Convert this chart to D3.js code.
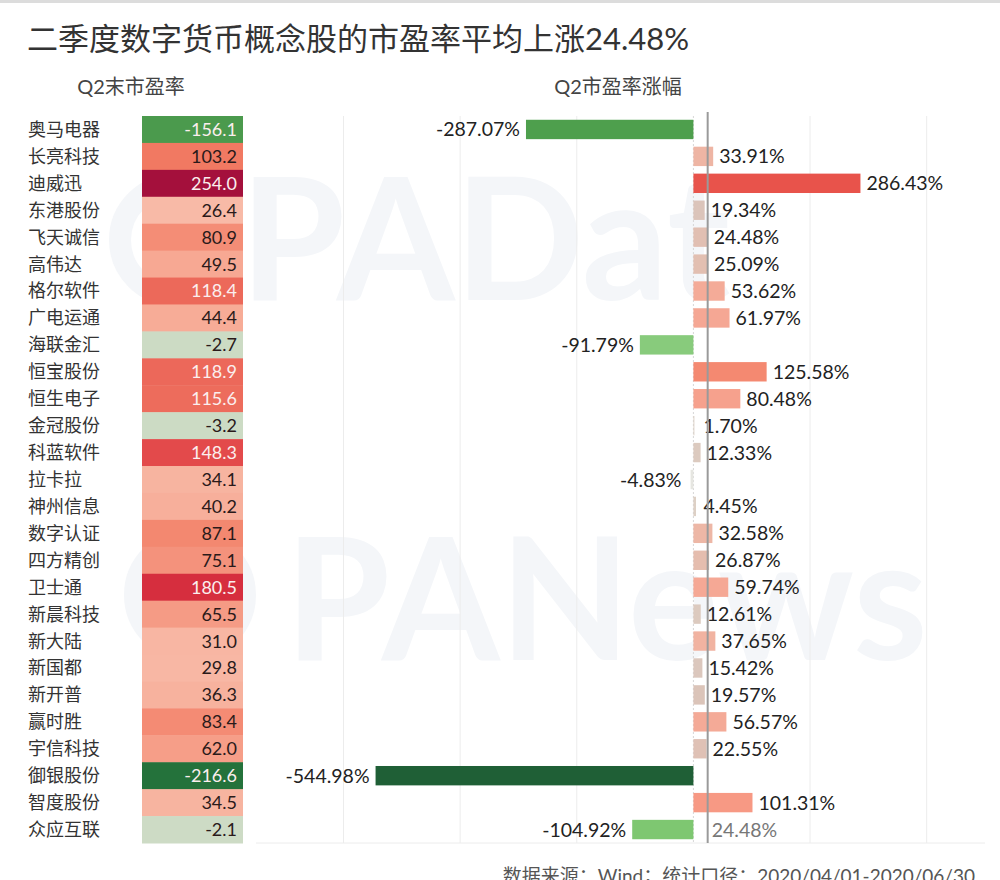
<!DOCTYPE html>
<html lang="zh">
<head>
  <meta charset="utf-8" />
  <title>二季度数字货币概念股的市盈率</title>
  <script src="https://d3js.org/d3.v7.min.js"></script>
  <style>
    body { margin: 0; background: #fff; }
    text { font-family: Lato, "Noto Sans CJK SC", sans-serif; }
  </style>
</head>
<body>
<script>
  // stock names, Q2 end PE, Q2 PE change (%)
  var names = ["奥马电器","长亮科技","迪威迅","东港股份","飞天诚信","高伟达","格尔软件","广电运通","海联金汇",
               "恒宝股份","恒生电子","金冠股份","科蓝软件","拉卡拉","神州信息","数字认证","四方精创","卫士通",
               "新晨科技","新大陆","新国都","新开普","赢时胜","宇信科技","御银股份","智度股份","众应互联"];
  var pe = [-156.1, 103.2, 254.0, 26.4, 80.9, 49.5, 118.4, 44.4, -2.7,
            118.9, 115.6, -3.2, 148.3, 34.1, 40.2, 87.1, 75.1, 180.5,
            65.5, 31.0, 29.8, 36.3, 83.4, 62.0, -216.6, 34.5, -2.1];
  var change = [-287.07, 33.91, 286.43, 19.34, 24.48, 25.09, 53.62, 61.97, -91.79,
                125.58, 80.48, 1.70, 12.33, -4.83, 4.45, 32.58, 26.87, 59.74,
                12.61, 37.65, 15.42, 19.57, 56.57, 22.55, -544.98, 101.31, -104.92];
  var average = 24.48;
  var gridTicks = [-600, -400, -200, 200, 400];

  var w = 1000, h = 880;

  var svg = d3.select("body").append("svg")
      .attr("width", w)
      .attr("height", h);

  svg.append("rect").attr("width", w).attr("height", 3).attr("fill", "#dcdcdc");

  // faint watermark (drawn as shapes so it stays behind everything)
  var wmc = "#f4f6f9";
  var wm = svg.append("g").attr("fill", "none").attr("stroke", wmc).attr("stroke-width", 22);
  wm.append("circle").attr("cx", 175).attr("cy", 240).attr("r", 55);
  wm.append("circle").attr("cx", 190).attr("cy", 595).attr("r", 55);
  svg.append("text").attr("x", 240).attr("y", 300).attr("font-size", 170)
    .attr("font-weight", "bold").attr("fill", wmc).text("PADat");
  svg.append("text").attr("x", 285).attr("y", 660).attr("font-size", 170)
    .attr("font-weight", "bold").attr("fill", wmc).text("PANews");

  // title
  svg.append("text")
    .attr("x", 27).attr("y", 50)
    .attr("font-size", 31)
    .attr("fill", "#333")
    .text("二季度数字货币概念股的市盈率平均上涨24.48%");

  svg.append("text").attr("x", 131).attr("y", 94).attr("text-anchor", "middle")
    .attr("font-size", 20).attr("fill", "#444").text("Q2末市盈率");
  svg.append("text").attr("x", 618).attr("y", 94).attr("text-anchor", "middle")
    .attr("font-size", 20).attr("fill", "#444").text("Q2市盈率涨幅");

  var y = d3.scaleBand().domain(names).range([116, 843]);

  var x = d3.scaleLinear().domain([-750, 500]).range([256, 985]);

  var peColor = d3.scaleLinear()
      .domain([-220, -150, -2, 25, 60, 100, 150, 185, 255])
      .range(["#22703a","#4f9e4f","#cddbc5","#f8bba8","#f6a08a","#f27c64","#e2484a","#d42a3c","#a3103c"])
      .clamp(true);

  var barColor = d3.scaleLinear()
      .domain([-545, -287, -100, -5, 0, 20, 35, 60, 100, 130, 290])
      .range(["#1f5f36","#4e9f4d","#7fc872","#e6e7e2","#ddd3c9","#dbc4b9","#f0b4a2","#f5a895","#f79a85","#f4866d","#e8524a"])
      .clamp(true);

  // grid lines
  svg.selectAll("line.grid")
    .data(gridTicks)
    .enter()
    .append("line")
    .attr("class", "grid")
    .attr("x1", function(d) { return x(d); })
    .attr("x2", function(d) { return x(d); })
    .attr("y1", 116).attr("y2", 843)
    .attr("stroke", "#ececec");

  svg.append("line")
    .attr("x1", x(-750)).attr("x2", x(500))
    .attr("y1", 843).attr("y2", 843)
    .attr("stroke", "#ececec");

  svg.append("line")
    .attr("x1", x(0)).attr("x2", x(0))
    .attr("y1", 116).attr("y2", 843)
    .attr("stroke", "#d6d6d6")
    .attr("stroke-dasharray", "2,2");

  // left table
  var rows = names.map(function(n, i) { return { name: n, pe: pe[i], chg: change[i] }; });

  svg.selectAll("text.name")
    .data(rows)
    .enter()
    .append("text")
    .attr("class", "name")
    .attr("x", 28)
    .attr("y", function(d) { return y(d.name) + y.bandwidth() / 2; })
    .attr("dy", "0.36em")
    .attr("font-size", 18)
    .attr("fill", "#333")
    .text(function(d) { return d.name; });

  svg.selectAll("rect.cell")
    .data(rows)
    .enter()
    .append("rect")
    .attr("class", "cell")
    .attr("x", 142)
    .attr("y", function(d) { return y(d.name); })
    .attr("width", 101)
    .attr("height", y.bandwidth() + 0.5)
    .attr("fill", function(d) { return peColor(d.pe); });

  svg.selectAll("text.pe")
    .data(rows)
    .enter()
    .append("text")
    .attr("class", "pe")
    .attr("x", 237)
    .attr("y", function(d) { return y(d.name) + y.bandwidth() / 2; })
    .attr("dy", "0.36em")
    .attr("text-anchor", "end")
    .attr("font-size", 18)
    .attr("fill", function(d) { return (d.pe < -100 || d.pe > 110) ? "#fbeeee" : "#2a1a1a"; })
    .text(function(d) { return d.pe.toFixed(1); });

  // bars
  var barH = y.bandwidth() * 0.72;

  svg.selectAll("rect.bar")
    .data(rows)
    .enter()
    .append("rect")
    .attr("class", "bar")
    .attr("x", function(d) { return x(Math.min(0, d.chg)); })
    .attr("y", function(d) { return y(d.name) + (y.bandwidth() - barH) / 2; })
    .attr("width", function(d) { return Math.abs(x(d.chg) - x(0)); })
    .attr("height", barH)
    .attr("fill", function(d) { return barColor(d.chg); });

  svg.selectAll("text.chg")
    .data(rows)
    .enter()
    .append("text")
    .attr("class", "chg")
    .attr("x", function(d) { return d.chg < 0 ? Math.min(x(d.chg), x(0) - 6) - 6 : Math.max(x(d.chg), x(0) + 4) + 6; })
    .attr("y", function(d) { return y(d.name) + y.bandwidth() / 2; })
    .attr("dy", "0.36em")
    .attr("text-anchor", function(d) { return d.chg < 0 ? "end" : "start"; })
    .attr("font-size", 19.5)
    .attr("fill", "#222")
    .text(function(d) { return d.chg.toFixed(2) + "%"; });

  // average reference line
  svg.append("line")
    .attr("x1", x(average)).attr("x2", x(average))
    .attr("y1", 112).attr("y2", 843)
    .attr("stroke", "#9a9a9a")
    .attr("stroke-width", 2);

  svg.append("text")
    .attr("x", x(average) + 4)
    .attr("y", y(names[names.length - 1]) + y.bandwidth() / 2)
    .attr("dy", "0.36em")
    .attr("font-size", 19.5)
    .attr("fill", "#777")
    .text(average.toFixed(2) + "%");

  // source
  svg.append("text")
    .attr("x", 975).attr("y", 883)
    .attr("text-anchor", "end")
    .attr("font-size", 19)
    .attr("fill", "#555")
    .text("数据来源：Wind；统计口径：2020/04/01-2020/06/30");
</script>
</body>
</html>
